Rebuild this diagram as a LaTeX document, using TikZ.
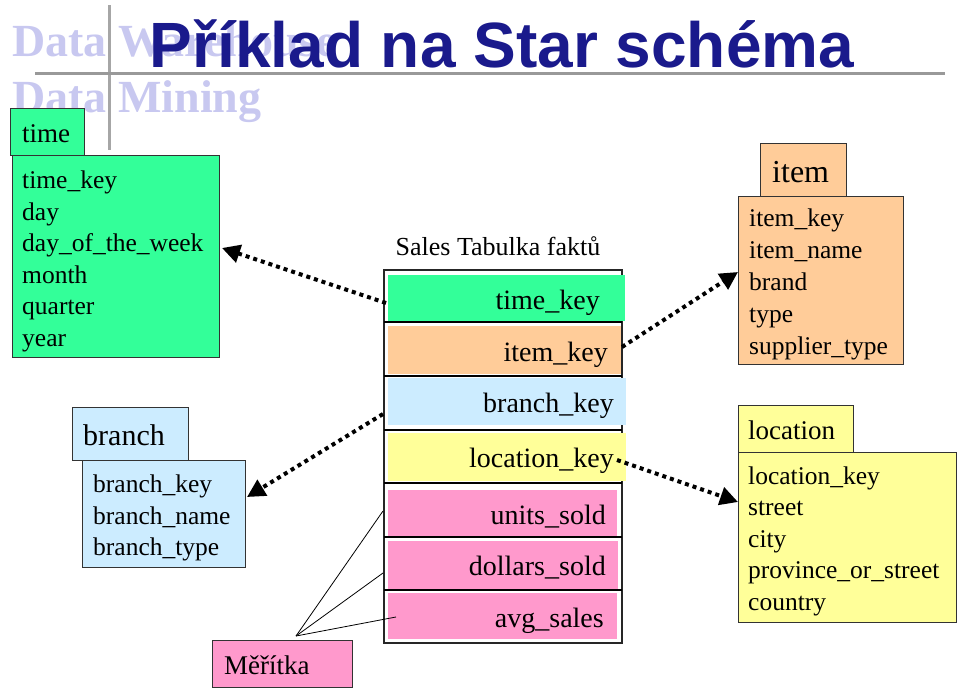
\documentclass[tikz,border=0pt]{standalone}
\usepackage{fontspec}
\setmainfont{Liberation Serif}
\newfontfamily\titlefont{Liberation Sans}
\usetikzlibrary{arrows.meta}
\definecolor{cgreen}{HTML}{33FF99}
\definecolor{corange}{HTML}{FFCC99}
\definecolor{cblue}{HTML}{CCECFF}
\definecolor{cyellow}{HTML}{FFFF99}
\definecolor{cpink}{HTML}{FF99CC}
\definecolor{navy}{HTML}{1A1A8C}
\definecolor{logo}{HTML}{C8C8F0}
\tikzset{
 box/.style={draw=black!80, line width=0.8pt, inner sep=0pt},
 lbl/.style={font=\fontsize{27}{30}\selectfont, anchor=base west, inner sep=0pt},
 itm/.style={font=\fontsize{25.5}{28}\selectfont, anchor=base west, inner sep=0pt},
 rowtxt/.style={font=\fontsize{28}{30}\selectfont, anchor=base east, inner sep=0pt},
 dimlink/.style={line width=4pt, dash pattern=on 4pt off 4pt, -{Triangle[length=18pt,width=18pt]}},
}
\begin{document}
\begin{tikzpicture}[x=1pt,y=-1pt]
\useasboundingbox (0,0) rectangle (960,690);
% logo
\node[font=\fontsize{46}{46}\selectfont\bfseries, text=logo, anchor=base west, inner sep=0pt] (lw) at (12,57) {Data Warehouse};
\node[font=\fontsize{46}{46}\selectfont\bfseries, text=logo, anchor=base west, inner sep=0pt] (lm) at (12,113) {Data Mining};
\fill[gray!70] (108,5) rectangle (111,150);
\fill[gray!80] (35,72) rectangle (945,75);
\node[font=\titlefont\fontsize{64}{66}\selectfont\bfseries, text=navy, anchor=base, inner sep=0pt] (title) at (502,68) {Příklad na Star schéma};
% time
\node[box, fill=cgreen, minimum width=207, minimum height=202, anchor=north west] (timec) at (12,155) {};
\node[box, fill=cgreen, minimum width=74, minimum height=47, anchor=north west] (timel) at (10,108) {};
\node[lbl] at (22,142) {time};
\foreach \t [count=\i] in {time\_key,day,day\_of\_the\_week,month,quarter,year}
  \node[itm] at (22,157+31.5*\i) {\t};
% branch
\node[box, fill=cblue, minimum width=163, minimum height=107, anchor=north west] (branchc) at (82,460) {};
\node[box, fill=cblue, minimum width=116, minimum height=53, anchor=north west] (branchl) at (72,407) {};
\node[lbl, font=\fontsize{30}{32}\selectfont] at (83,445) {branch};
\foreach \t [count=\i] in {branch\_key,branch\_name,branch\_type}
  \node[itm] at (93,461+31.5*\i) {\t};
% item
\node[box, fill=corange, minimum width=165, minimum height=168, anchor=north west] (itemc) at (738,196) {};
\node[box, fill=corange, minimum width=86, minimum height=53, anchor=north west] (iteml) at (760,143) {};
\node[lbl, font=\fontsize{32}{34}\selectfont] at (772,182) {item};
\foreach \t [count=\i] in {item\_key,item\_name,brand,type,supplier\_type}
  \node[itm] at (749,194+32*\i) {\t};
% location
\node[box, fill=cyellow, minimum width=218, minimum height=170, anchor=north west] (locc) at (738,452) {};
\node[box, fill=cyellow, minimum width=115, minimum height=47, anchor=north west] (locl) at (738,405) {};
\node[lbl] at (748,439) {location};
\foreach \t [count=\i] in {location\_key,street,city,province\_or\_street,country}
  \node[itm] at (748,452.5+31.5*\i) {\t};
% fact table
\node[font=\fontsize{26}{28}\selectfont, anchor=base, inner sep=0pt] (facttitle) at (498,255) {Sales Tabulka faktů};
\draw[line width=1.2pt, black!85] (384,270) rectangle (622,643);
\fill[cgreen] (388,275) rectangle (625,321);
\fill[corange] (388,326) rectangle (621,374);
\fill[cblue] (388,378) rectangle (626,425);
\fill[cyellow] (388,433) rectangle (626,481);
\fill[cpink] (388,490) rectangle (617,536);
\fill[cpink] (388,541) rectangle (618,589);
\fill[cpink] (388,593) rectangle (617,639);
\foreach \y in {322,376,430,483,537,590}
  \draw[line width=1.5pt] (384,\y) -- (622,\y);
\node[rowtxt] (tk) at (600,309) {time\_key};
\node[rowtxt] (ik) at (608,361) {item\_key};
\node[rowtxt] (bk) at (614,412) {branch\_key};
\node[rowtxt] (lk) at (614,467) {location\_key};
\node[rowtxt] (us) at (606,524) {units\_sold};
\node[rowtxt] (ds) at (606,575) {dollars\_sold};
\node[rowtxt] (as) at (604,627) {avg\_sales};
\coordinate (tkw) at (386,303);
\coordinate (ikw) at (622,347);
\coordinate (bkw) at (383,414);
\coordinate (lkw) at (617,460);
% arrows
\draw[dimlink] (tkw) -- (222,248);
\draw[dimlink] (ikw) -- (738,272);
\draw[dimlink] (bkw) -- (247,497);
\draw[dimlink] (lkw) -- (738,502);
% measures
\node[box, fill=cpink, minimum width=140, minimum height=47, anchor=north west] (mer) at (212,640) {};
\node[lbl] at (224,674) {Měřítka};
\coordinate (m0) at (296,636);
\draw[line width=0.8pt] (m0) -- (383,511);
\draw[line width=0.8pt] (m0) -- (383,573);
\draw[line width=0.8pt] (m0) -- (396,617);
\end{tikzpicture}
\end{document}
